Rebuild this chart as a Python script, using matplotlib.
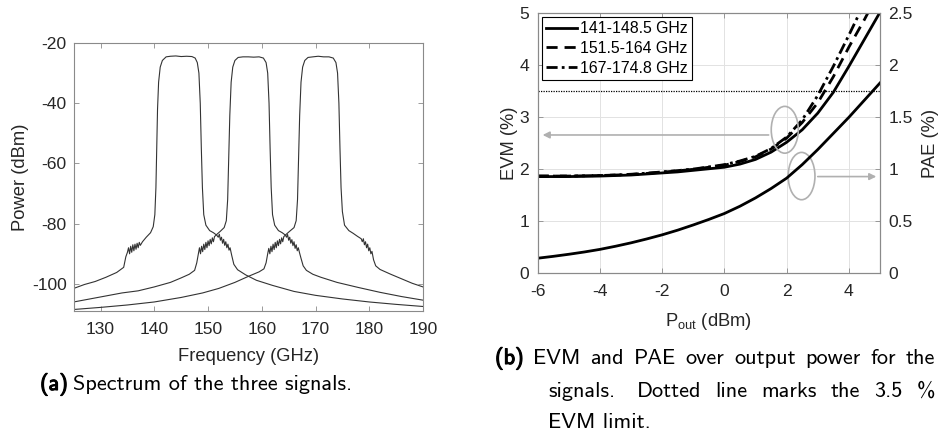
import os
import numpy as np
import matplotlib
matplotlib.use('Agg')
import matplotlib.pyplot as plt
from matplotlib.patches import Ellipse
from matplotlib.font_manager import FontProperties
import matplotlib.patheffects as pe

plt.rcParams['font.family'] = ['Liberation Sans', 'DejaVu Sans']
plt.rcParams['axes.unicode_minus'] = False
plt.rcParams['mathtext.default'] = 'regular'

# ---- (a) spectrum (GHz, dBm) ----
sig1_f = [125, 127, 129, 131, 133, 134.3, 134.7, 135.0,
          135.2, 135.4, 135.6, 135.8, 136.0, 136.2, 136.4, 136.6, 136.8, 137.0, 137.2, 137.4,
          137.8, 138.5, 139.3, 139.8, 140.1, 140.3, 140.45, 140.6, 140.8, 141.1, 141.5, 142.2,
          143, 144, 145, 146, 147, 147.6, 148, 148.3, 148.55, 148.75, 148.95, 149.2, 149.6,
          150.3, 151.0, 151.6,
          151.9, 152.1, 152.3, 152.5, 152.7, 152.9, 153.1, 153.3, 153.5, 153.7, 153.9, 154.1,
          154.4, 154.8, 155.5, 157, 159, 162, 166, 170, 175, 180, 185, 190]
sig1_p = [-101.5, -100.2, -99.2, -97.8, -96.2, -94.5, -91, -89.5,
          -88.0, -90.0, -87.5, -89.5, -87.0, -89.0, -86.8, -88.5, -86.5, -88.0, -86.2, -87.2,
          -86.0, -84.5, -83.0, -81.0, -77, -68, -55, -42, -33, -28, -25.8, -24.6,
          -24.4, -24.3, -24.5, -24.4, -24.5, -25, -26.5, -30, -40, -55, -68, -77, -80.5,
          -82.3, -83.0, -83.8,
          -84.5, -83.5, -85.5, -84.5, -86.5, -85.2, -87.2, -86.0, -88.0, -86.8, -88.8, -88.0,
          -90.5, -93.5, -95.3, -97, -98.8, -100.5, -102.5, -103.8, -105, -106, -106.8, -107.5]

sig2_f = [125, 128, 131, 134, 137, 140, 143, 145, 146.5, 147.5, 147.9, 148.2,
          148.4, 148.6, 148.8, 149.0, 149.2, 149.4, 149.6, 149.8, 150.0, 150.2, 150.4, 150.6,
          150.8, 151.0, 151.2,
          151.6, 152.3, 153.0, 153.4, 153.65, 153.85, 154.05, 154.3, 154.6, 155.0, 155.6,
          156.5, 157.5, 158.5, 159.5, 160.3, 160.8, 161.1, 161.35, 161.55, 161.75, 162.0,
          162.4, 163.1, 163.8, 164.4,
          164.6, 164.8, 165.0, 165.2, 165.4, 165.6, 165.8, 166.0, 166.2, 166.4, 166.6, 166.8,
          167.0,
          167.3, 167.7, 168.3, 169.5, 171, 174, 178, 182, 186, 190]
sig2_p = [-106, -105, -104, -103, -102.3, -101, -99.5, -98, -96.8, -95.5, -93, -90,
          -88.0, -90.0, -87.5, -89.3, -86.8, -88.6, -86.2, -88.0, -85.7, -87.3, -85.2, -86.7,
          -84.7, -86.0, -84.3,
          -83.6, -82.5, -81.3, -79, -72, -58, -44, -33, -28, -25.8, -24.8,
          -24.6, -24.6, -24.7, -24.6, -25, -26.5, -30, -40, -55, -68, -77,
          -80.5, -82.3, -83.0, -83.8,
          -84.5, -83.6, -85.5, -84.5, -86.5, -85.3, -87.3, -86.0, -88.2, -87.0, -89.0, -88.0,
          -89.5,
          -91.5, -94, -95.5, -96.8, -97.8, -99.5, -101.2, -102.8, -104.2, -105.4]

sig3_f = [125, 130, 135, 140, 145, 149, 152, 155, 157.5, 159.5, 160.4, 160.8, 161.1,
          161.3, 161.5, 161.7, 161.9, 162.1, 162.3, 162.5, 162.7, 162.9, 163.1, 163.3, 163.5,
          163.7, 163.9, 164.1,
          164.5, 165.2, 166.0, 166.4, 166.65, 166.85, 167.05, 167.3, 167.6, 168.0, 168.6,
          169.5, 170.5, 171.5, 172.5, 173.3, 173.8, 174.1, 174.35, 174.55, 174.75, 175.0,
          175.4, 176.2, 177.0, 177.8, 178.5,
          178.7, 178.9, 179.1, 179.3, 179.5, 179.7, 179.9, 180.1, 180.3, 180.5,
          180.8, 181.2, 182, 184, 186, 188, 190]
sig3_p = [-108.5, -107.8, -107, -106, -104.5, -103, -101.5, -99.5, -97.5, -96, -95, -93, -90,
          -88.2, -90.0, -87.5, -89.3, -86.8, -88.6, -86.2, -88.0, -85.7, -87.3, -85.2, -86.7,
          -84.7, -86.0, -84.3,
          -83.6, -82.5, -81.3, -79, -72, -58, -44, -33, -28, -25.8, -24.8,
          -24.6, -24.4, -24.6, -24.6, -25, -26.5, -30, -40, -55, -68, -76,
          -80.5, -82.3, -83.2, -84.2, -85,
          -86.0, -85.0, -87.0, -86.0, -88.0, -86.8, -89.0, -88.0, -90.0, -89.2,
          -92, -94, -95.2, -96.8, -98.3, -99.8, -101]

# ---- (b) EVM / PAE over output power ----
pout = [-6, -5.5, -5, -4.5, -4, -3.5, -3, -2.5, -2, -1.5, -1, -0.5, 0,
        0.5, 1, 1.5, 2, 2.5, 3, 3.5, 4, 4.5, 5]
evm_141 = [1.86, 1.86, 1.86, 1.865, 1.87, 1.88, 1.89, 1.91, 1.93, 1.95, 1.98, 2.01, 2.04,
           2.1, 2.19, 2.33, 2.52, 2.76, 3.08, 3.48, 3.98, 4.5, 5.02]
evm_151 = [1.87, 1.87, 1.87, 1.875, 1.88, 1.89, 1.9, 1.92, 1.945, 1.97, 2.0, 2.04, 2.08,
           2.15, 2.24, 2.39, 2.6, 2.9, 3.28, 3.78, 4.35, 4.88, 5.45]
evm_167 = [1.87, 1.87, 1.87, 1.875, 1.88, 1.89, 1.905, 1.925, 1.95, 1.975, 2.005, 2.045, 2.09,
           2.16, 2.25, 2.4, 2.62, 2.95, 3.42, 3.98, 4.58, 5.2, 5.9]
pae = [0.145, 0.163, 0.183, 0.205, 0.23, 0.26, 0.293, 0.33, 0.37, 0.415, 0.465, 0.518, 0.575,
       0.645, 0.725, 0.815, 0.915, 1.045, 1.19, 1.345, 1.5, 1.665, 1.83]
evm_limit = 3.5
labels = ['141-148.5 GHz', '151.5-164 GHz', '167-174.8 GHz']

W, H = 941, 437
fig = plt.figure(figsize=(W / 100, H / 100), dpi=100)

spine_col = '#8a8a8a'
txt_col = '#262626'
tick_fs = 12.6
lab_fs = 13.2


def style_axes(a):
    for s in a.spines.values():
        s.set_color(spine_col)
        s.set_linewidth(0.8)
    a.tick_params(direction='in', length=3.5, width=0.6, colors=spine_col,
                  labelcolor=txt_col, labelsize=tick_fs)
    a.tick_params(axis='x', pad=8)
    a.tick_params(axis='y', pad=5)


# (a)
ax1 = fig.add_axes([73.7 / W, 1 - 311 / H, (423 - 73.7) / W, (311 - 43) / H])
for f, p in [(sig1_f, sig1_p), (sig2_f, sig2_p), (sig3_f, sig3_p)]:
    ax1.plot(f, p, color='#333333', lw=0.8)
ax1.set_xlim(125, 190)
ax1.set_ylim(-109, -20)
ax1.set_xticks(range(130, 191, 10))
ax1.set_yticks(range(-100, -19, 20))
style_axes(ax1)
ax1.tick_params(top=True, right=True)
ax1.set_xlabel('Frequency (GHz)', fontsize=lab_fs, color=txt_col, labelpad=7.5)
ax1.set_ylabel('Power (dBm)', fontsize=lab_fs, color=txt_col, labelpad=2)

# (b)
ax2 = fig.add_axes([537.7 / W, 1 - 273.3 / H, (880 - 537.7) / W, (273.3 - 13.3) / H])
ax3 = ax2.twinx()
ax2.plot(pout, evm_141, color='black', lw=2, label=labels[0])
ax2.plot(pout, evm_151, color='black', lw=2, ls=(0, (4, 2.5)), label=labels[1])
ax2.plot(pout, evm_167, color='black', lw=2, ls=(0, (4, 1.5, 1, 1.5)), label=labels[2])
ax2.axhline(evm_limit, color='black', lw=0.9, ls=(0, (1, 1)))
ax3.plot(pout, pae, color='black', lw=2)

gray = '#b0b0b0'
ax2.add_patch(Ellipse((1.94, 2.76), 0.87, 0.9, fill=False, ec=gray, lw=1.2, zorder=5))
ax2.add_patch(Ellipse((2.48, 1.87), 0.86, 0.91, fill=False, ec=gray, lw=1.2, zorder=5))
ax2.annotate('', xy=(-5.93, 2.66), xytext=(1.51, 2.66),
             arrowprops=dict(arrowstyle='-|>', color=gray, lw=1.2, mutation_scale=10))
ax2.annotate('', xy=(4.97, 1.86), xytext=(2.91, 1.86),
             arrowprops=dict(arrowstyle='-|>', color=gray, lw=1.2, mutation_scale=10))

ax2.set_xlim(-6, 5)
ax2.set_ylim(0, 5)
ax3.set_ylim(0, 2.5)
ax2.set_xticks([-6, -4, -2, 0, 2, 4])
ax2.set_yticks([0, 1, 2, 3, 4, 5])
ax3.set_yticks([0, 0.5, 1, 1.5, 2, 2.5])
ax3.set_yticklabels(['0', '0.5', '1', '1.5', '2', '2.5'])
ax2.grid(True, color='#e2e2e2', lw=0.7)
style_axes(ax2)
style_axes(ax3)
ax2.tick_params(top=True)
ax2.tick_params(axis='y', pad=6)
ax3.tick_params(axis='y', pad=6)
ax2.set_xlabel('P$_{out}$ (dBm)', fontsize=lab_fs, color=txt_col, labelpad=8)
ax2.set_ylabel('EVM (%)', fontsize=lab_fs, color=txt_col, labelpad=1)
ax3.set_ylabel('PAE (%)', fontsize=lab_fs, color=txt_col, labelpad=7)
leg = ax2.legend(loc='upper left', fontsize=11.4, handlelength=2.0, handletextpad=0.2,
                 labelspacing=0.3, borderpad=0.25, borderaxespad=0.25,
                 fancybox=False, framealpha=1)
leg.get_frame().set_edgecolor('black')
leg.get_frame().set_linewidth(0.8)

# captions
cm = FontProperties(fname=os.path.join(matplotlib.get_data_path(), 'fonts', 'ttf', 'cmss10.ttf'),
                    size=16)
bold = [pe.withStroke(linewidth=0.8, foreground='black')]
renderer = fig.canvas.get_renderer()


def put(x, y, s, **kw):
    t = fig.text(x / W, 1 - y / H, s, fontproperties=cm, va='baseline', ha='left', **kw)
    return t, t.get_window_extent(renderer).width


def justified(x0, x1, y, words, gaps, first_bold=False):
    widths = []
    texts = []
    for i, w in enumerate(words):
        kw = {'path_effects': bold} if (first_bold and i == 0) else {}
        t, wd = put(0, y, w, **kw)
        texts.append(t)
        widths.append(wd)
    unit = ((x1 - x0) - sum(widths)) / sum(gaps)
    x = x0
    for i, t in enumerate(texts):
        t.set_x(x / W)
        x += widths[i]
        if i < len(gaps):
            x += gaps[i] * unit


tag_a, wa = put(40, 390, '(a)', path_effects=bold)
put(40 + wa + 5, 390, 'Spectrum of the three signals.')

w1 = ['(b)'] + 'EVM and PAE over output power for the'.split()
justified(495, 935, 364, w1, [1] * (len(w1) - 1), first_bold=True)
w2 = ['signals.', 'Dotted', 'line', 'marks', 'the', '3.5', '%']
justified(548, 935, 397, w2, [1.6, 1, 1, 1, 1, 1])
put(548, 428, 'EVM limit.')

fig.savefig('out.png', dpi=100)
